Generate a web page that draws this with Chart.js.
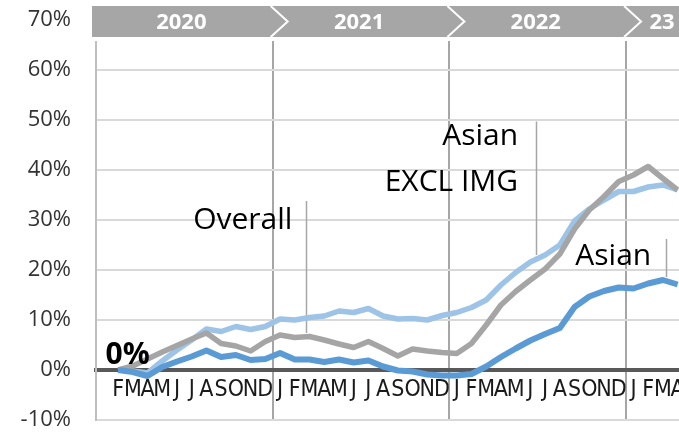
<!DOCTYPE html>
<html>
<head>
<meta charset="utf-8">
<script src="https://cdn.jsdelivr.net/npm/chart.js@4"></script>
<style>
  html, body { margin: 0; padding: 0; background: #fff; overflow: hidden; }
  #wrap { width: 679px; height: 432px; overflow: hidden; }
</style>
</head>
<body>
<div id="wrap"><canvas id="lineChart" width="700" height="432"></canvas></div>
<script>
// months Jan 2020 - Apr 2023 (first slot = Jan 2020, no label, no data)
const months = ['', 'F', 'M', 'A', 'M', 'J', 'J', 'A', 'S', 'O', 'N', 'D',
  'J', 'F', 'M', 'A', 'M', 'J', 'J', 'A', 'S', 'O', 'N', 'D',
  'J', 'F', 'M', 'A', 'M', 'J', 'J', 'A', 'S', 'O', 'N', 'D',
  'J', 'F', 'M', 'A'];
const years = ['2020', '2021', '2022', '23'];
const yearStart = [0, 12, 24, 36]; // category index where each year starts

// cumulative change, %
const overall = [null, 0, 0.8, 2.2, 3.6, 4.9, 6.2, 7.4, 5.3, 4.8, 3.8, 5.7,
  7.0, 6.5, 6.7, 6.0, 5.2, 4.5, 5.7, 4.3, 2.8, 4.2, 3.8, 3.5,
  3.3, 5.3, 9.0, 13.0, 15.7, 18.0, 20.2, 23.2, 28.2, 32.0, 34.7, 37.7,
  39.0, 40.7, 38.3, 36.0];
const asianExImg = [null, 0, -0.2, -0.6, 1.8, 4.0, 6.0, 8.2, 7.7, 8.7, 8.1, 8.7,
  10.2, 10.0, 10.5, 10.8, 11.8, 11.5, 12.3, 10.8, 10.2, 10.3, 10.0, 10.9,
  11.5, 12.5, 14.0, 17.0, 19.5, 21.6, 23.0, 25.0, 29.8, 32.2, 34.0, 35.7,
  35.7, 36.6, 37.0, 36.0];
const asian = [null, 0, -0.4, -1.2, 0.6, 1.7, 2.7, 3.9, 2.6, 3.0, 2.0, 2.2,
  3.4, 2.1, 2.1, 1.6, 2.1, 1.5, 1.9, 0.7, -0.1, -0.3, -0.9, -1.1,
  -1.1, -0.8, 0.7, 2.6, 4.3, 5.9, 7.2, 8.4, 12.6, 14.7, 15.8, 16.5,
  16.3, 17.3, 18.0, 17.1];

const yTicks = [-10, 0, 10, 20, 30, 40, 50, 60, 70];

// text labels on the plot, placed in axis units (category index, %)
const notes = [
  { lines: ['Overall'], x: 6.1, y: 28.2, align: 'left' },
  { lines: ['Asian', 'EXCL IMG'], x: 28.17, y: 45, align: 'right' },
  { lines: ['Asian'], x: 32.05, y: 21.1, align: 'left' }
];
// leader lines: [category pos, from %, to %]
const leaders = [[13.75, 33.8, 7.4], [29.37, 49.7, 23], [38.22, 26.2, 18.6]];

const overlay = {
  id: 'overlay',
  beforeDatasetsDraw(chart) {
    const { ctx, scales: { x, y } } = chart;
    ctx.save();
    ctx.strokeStyle = '#a6a6a6';
    ctx.lineWidth = 1.5;
    leaders.forEach(([pos, y1, y2]) => {
      const px = Math.round(x.getPixelForValue(pos)) + 0.5;
      ctx.beginPath();
      ctx.moveTo(px, y.getPixelForValue(y1));
      ctx.lineTo(px, y.getPixelForValue(y2));
      ctx.stroke();
    });
    ctx.restore();
  },
  afterDatasetsDraw(chart) {
    const { ctx, scales: { x, y } } = chart;
    ctx.save();
    ctx.fillStyle = '#000';
    ctx.textBaseline = 'alphabetic';
    ctx.font = '30px "Open Sans"';
    notes.forEach(n => {
      ctx.textAlign = n.align;
      n.lines.forEach((t, k) => {
        ctx.fillText(t, x.getPixelForValue(n.x), y.getPixelForValue(n.y) + k * 46);
      });
    });
    // "0%" start label
    ctx.font = 'bold 30px "Open Sans"';
    ctx.textAlign = 'left';
    ctx.fillText('0%', x.getPixelForValue(0.15), y.getPixelForValue(1.2));
    ctx.restore();
  },
  afterDraw(chart) {
    const { ctx, scales: { x } } = chart;
    const half = (x.getPixelForValue(1) - x.getPixelForValue(0)) / 2;
    const edges = yearStart.map(i => x.getPixelForValue(i) - half);
    const top = 6, bot = 37, mid = (top + bot) / 2;
    ctx.save();
    ctx.fillStyle = '#fff';
    ctx.fillRect(x.left - 6, 0, chart.width, 41);
    ctx.fillStyle = '#a6a6a6';
    ctx.fillRect(edges[0] - 4, top, chart.width, bot - top);
    ctx.strokeStyle = '#fff';
    ctx.lineWidth = 2;
    const starts = edges.map((e, i) => i === 0 ? e - 4 : e - 2);
    starts.forEach((s, i) => {
      if (i === 0) return;
      ctx.beginPath();
      ctx.moveTo(s, top);
      ctx.lineTo(s + 17, mid);
      ctx.lineTo(s, bot);
      ctx.stroke();
    });
    ctx.fillStyle = '#fff';
    ctx.font = 'bold 22px "Open Sans"';
    ctx.textAlign = 'center';
    ctx.textBaseline = 'middle';
    years.forEach((yr, i) => {
      const end = i < starts.length - 1 ? starts[i + 1] : chart.width;
      ctx.fillText(yr, (starts[i] + end) / 2, mid + 1);
    });
    ctx.restore();
  }
};

const chart = new Chart(document.getElementById('lineChart'), {
  type: 'line',
  data: {
    labels: months,
    datasets: [
      { label: 'Asian', data: asian, borderColor: '#5b9bd5', borderWidth: 6 },
      { label: 'Overall', data: overall, borderColor: '#a5a5a5', borderWidth: 5.5 },
      { label: 'Asian EXCL IMG', data: asianExImg, borderColor: '#9dc3e6', borderWidth: 5.5 }
    ]
  },
  options: {
    responsive: false,
    animation: false,
    events: [],
    layout: { padding: { left: 0, right: 15, top: 20, bottom: 12 } },
    elements: {
      point: { radius: 0 },
      line: { tension: 0, fill: false, borderJoinStyle: 'round', borderCapStyle: 'butt' }
    },
    plugins: { legend: { display: false }, tooltip: { enabled: false } },
    scales: {
      x: {
        type: 'category',
        position: { y: 0 },
        offset: true,
        grid: {
          offset: true,
          drawTicks: false,
          lineWidth: 2,
          color: c => (c.index > 0 && c.index % 12 === 0 && c.index < months.length) ? '#a6a6a6' : 'transparent'
        },
        border: { display: true, color: '#595959', width: 4 },
        ticks: {
          autoSkip: false,
          maxRotation: 0,
          minRotation: 0,
          padding: 6,
          color: '#1a1a1a',
          font: { family: "'Liberation Sans Narrow', 'DejaVu Sans Condensed', sans-serif", size: 23 }
        }
      },
      y: {
        min: -10,
        max: 70,
        afterFit(scale) {
          scale.width = 96;
          scale.paddingTop = 0;
          scale.paddingBottom = 0;
        },
        afterBuildTicks(scale) { scale.ticks = yTicks.map(v => ({ value: v })); },
        grid: {
          drawTicks: false,
          lineWidth: 2,
          color: c => c.tick && c.tick.value === 0 ? 'transparent' : '#d9d9d9'
        },
        border: { color: '#bfbfbf', width: 2 },
        ticks: {
          padding: 25,
          color: '#333',
          font: { family: "'Open Sans'", size: 22, lineHeight: 1 },
          callback: v => v + '%'
        }
      }
    }
  },
  plugins: [overlay]
});
</script>
</body>
</html>
